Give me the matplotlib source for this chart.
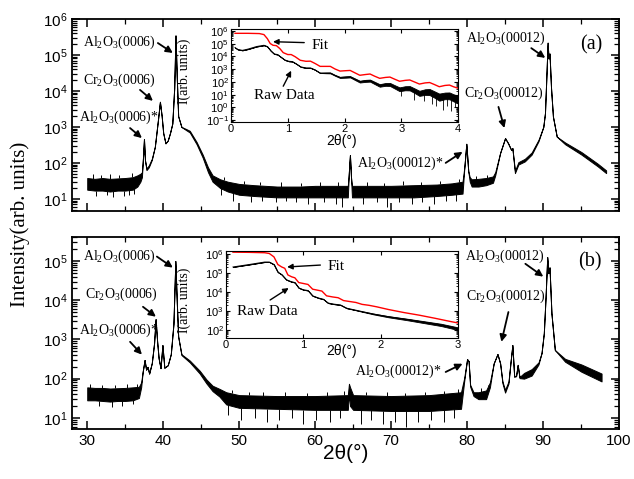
import numpy as np
import matplotlib.pyplot as plt
from matplotlib.ticker import LogLocator, NullFormatter, MultipleLocator

plt.rcParams['font.family'] = ['Liberation Sans', 'DejaVu Sans']
plt.rcParams['mathtext.default'] = 'regular'
plt.rcParams['axes.linewidth'] = 1.3
plt.rcParams['xtick.direction'] = 'in'
plt.rcParams['ytick.direction'] = 'in'
plt.rcParams['xtick.top'] = True
plt.rcParams['ytick.right'] = True
SERIF = ['Liberation Serif', 'DejaVu Serif']

# ---- XRD scan (a): 2theta, lower / upper edge of the noisy trace
tt_a = [30.0, 31.0, 32.0, 33.0, 34.0, 35.0, 36.0, 36.6, 37.0, 37.2, 37.35, 37.47, 37.6, 37.8,
        38.1, 38.5, 38.9, 39.3, 39.57, 39.8, 40.0, 40.3, 40.6, 40.9, 41.2, 41.45, 41.62, 41.8,
        41.97, 42.4, 43.0, 43.5, 44.4, 45.2, 45.9, 46.5, 47.5, 48.5, 50.0, 52.0, 55.0, 58.0,
        60.0, 62.0, 64.3, 64.45, 64.58, 64.72, 64.85, 67.0, 70.0, 73.0, 76.0, 78.0, 79.4,
        79.65, 79.9, 80.15, 80.35, 80.6, 81.5, 82.5, 83.4, 83.7, 84.35, 85.0, 85.4, 85.8,
        85.96, 86.3, 86.75, 87.6, 88.5, 89.4, 90.03, 90.25, 90.45, 90.6, 90.72, 90.85, 91.05,
        91.3, 91.8, 92.9, 95.05, 97.2, 98.3]
lo_a = [18, 17, 17, 16, 17, 17, 18, 22, 30, 40, 150, 460, 120, 63,
        75, 120, 280, 1500, 5000, 2000, 680, 350, 420, 680, 1250, 12000, 350000, 20000,
        2000, 1000, 820, 700, 330, 140, 55, 30, 20, 16, 13, 12, 11, 11,
        11, 11, 11, 60, 165, 40, 11, 11, 11, 11, 12, 13, 14,
        80, 340, 60, 30, 22, 22, 24, 28, 45, 190, 490, 350, 230,
        260, 52, 90, 110, 170, 400, 1000, 2400, 30000, 220000, 80000, 110000, 12000,
        1950, 540, 330, 170, 80, 52]
hi_a = [38, 36, 38, 36, 37, 38, 40, 45, 50, 55, 150, 460, 120, 70,
        85, 130, 280, 1500, 5000, 2000, 680, 350, 420, 680, 1250, 12000, 350000, 20000,
        2000, 1000, 880, 780, 380, 170, 75, 45, 35, 30, 26, 24, 22, 22,
        23, 23, 23, 60, 165, 40, 23, 23, 23, 24, 25, 27, 30,
        80, 340, 60, 40, 35, 36, 38, 42, 55, 190, 490, 350, 230,
        260, 60, 105, 130, 195, 440, 1000, 2400, 30000, 220000, 80000, 110000, 12000,
        1950, 540, 370, 200, 95, 62]
spike_x_a = [31.2, 32.6, 33.4, 34.8, 35.5, 36.2, 47.6, 49.2, 51.5, 53.0, 54.8, 56.1, 57.5, 59.0,
             61.2, 62.8, 63.6, 66.3, 68.1, 69.5, 71.0, 72.8, 74.1, 75.7, 77.2, 78.6]
spike_y_a = [12, 13, 11, 12, 13, 14, 13, 9, 8, 9, 8, 9, 8, 7,
             8, 7, 6, 7, 8, 6, 8, 7, 8, 7, 9, 9]
peak_x_a = [30.7, 31.8, 33.0, 34.2, 35.9, 48.0, 50.6, 52.7, 55.5, 58.2, 60.7, 63.0, 66.8, 69.0,
            71.6, 73.9, 76.4, 78.9, 81.2, 82.6]
peak_y_a = [48, 46, 50, 47, 52, 40, 32, 30, 29, 28, 30, 29, 30, 28, 31, 30, 32, 36, 44, 46]

# ---- XRD scan (b)
tt_b = [30.0, 31.0, 32.0, 33.0, 34.0, 35.0, 36.0, 36.8, 37.1, 37.3, 37.55, 37.75, 37.95, 38.15,
        38.5, 38.8, 39.0, 39.2, 39.4, 39.65, 39.9, 40.15, 40.6, 41.0, 41.35, 41.6, 41.8, 41.97,
        42.4, 43.5, 44.8, 45.7, 46.5, 47.4, 48.3, 50.0, 55.0, 60.0, 64.3, 64.45, 64.6, 65.0,
        70.0, 75.0, 79.2, 79.6, 80.0, 80.2, 80.4, 80.85, 81.5, 82.5, 83.0, 83.5, 84.0, 84.35,
        84.65, 85.0, 85.45, 85.7, 85.96, 86.2, 86.45, 86.66, 86.9, 87.5, 88.5, 89.4, 89.8,
        90.1, 90.33, 90.55, 90.7, 90.85, 91.1, 91.55, 92.9, 95.05, 97.7]
lo_b = [28, 28, 27, 26, 27, 27, 28, 32, 60, 150, 300, 170, 200, 135,
        250, 800, 3300, 900, 330, 185, 720, 190, 220, 420, 2500, 100000, 8000, 1200,
        400, 260, 135, 75, 48, 35, 22, 18, 17, 16, 16, 40, 20, 16,
        15, 15, 17, 80, 315, 280, 63, 36, 30, 30, 60, 245, 425, 245,
        77, 44, 75, 245, 720, 113, 115, 225, 103, 100, 120, 230, 450,
        1450, 12000, 126000, 49000, 69000, 4700, 540, 270, 150, 85]
hi_b = [60, 58, 58, 56, 57, 58, 60, 62, 80, 150, 300, 170, 200, 135,
        250, 800, 3300, 900, 330, 185, 720, 190, 220, 420, 2500, 100000, 8000, 1200,
        420, 290, 160, 95, 66, 55, 45, 38, 36, 36, 38, 74, 60, 38,
        36, 38, 45, 100, 315, 280, 70, 45, 45, 50, 80, 245, 425, 245,
        85, 52, 85, 245, 720, 113, 120, 225, 110, 140, 175, 260, 450,
        1450, 12000, 126000, 49000, 69000, 4700, 540, 320, 230, 135]
spike_x_b = [31.5, 33.2, 34.6, 36.0, 48.5, 50.2, 52.1, 53.7, 55.3, 57.0, 58.4, 60.1, 62.0, 63.3,
             66.0, 67.4, 68.9, 70.5, 72.0, 73.6, 75.2, 76.9, 78.3]
spike_y_b = [20, 19, 20, 22, 12, 9, 10, 8, 9, 10, 7, 9, 8, 10,
             7, 9, 7, 8, 6, 8, 9, 8, 10]
peak_x_b = [30.4, 31.9, 33.6, 35.2, 36.5, 49.0, 51.3, 53.2, 56.0, 58.9, 61.5, 63.8, 66.7, 69.4,
            71.8, 74.4, 77.0, 78.8, 81.8, 82.8]
peak_y_b = [72, 70, 68, 71, 75, 50, 47, 45, 46, 44, 46, 48, 45, 46, 44, 47, 48, 55, 58, 64]

# ---- reflectivity insets, log10 of intensity
fit_a_x = [0.07, 0.30, 0.50, 0.58, 0.64, 0.69, 0.74, 0.80, 0.86, 0.92, 1.00, 1.06, 1.13, 1.22,
           1.32, 1.40, 1.48, 1.57, 1.67, 1.75, 1.83, 1.92, 2.02, 2.10, 2.18, 2.27, 2.37, 2.45,
           2.53, 2.62, 2.72, 2.80, 2.88, 2.97, 3.07, 3.15, 3.23, 3.32, 3.42, 3.50, 3.58, 3.67,
           3.77, 3.85, 3.92, 4.00]
fit_a = [5.82, 5.82, 5.80, 5.72, 5.40, 5.02, 4.88, 4.85, 4.62, 4.30, 4.15, 4.15, 3.98, 3.70,
         3.62, 3.63, 3.45, 3.22, 3.22, 3.22, 3.02, 2.85, 2.88, 2.90, 2.72, 2.52, 2.58, 2.62,
         2.45, 2.28, 2.35, 2.38, 2.22, 2.05, 2.12, 2.15, 2.00, 1.83, 1.92, 1.95, 1.80, 1.62,
         1.72, 1.75, 1.62, 1.50]
raw_a_x = [0.07, 0.12, 0.20, 0.30, 0.45, 0.58, 0.64, 0.70, 0.76, 0.82, 0.88, 0.95, 1.02, 1.08,
           1.15, 1.23, 1.32, 1.40, 1.48, 1.57, 1.67, 1.75, 1.83, 1.92, 2.02, 2.10, 2.18, 2.27,
           2.37, 2.45, 2.53, 2.62, 2.72, 2.80, 2.88, 2.97, 3.07, 3.15, 3.23, 3.32, 3.42, 3.50,
           3.58, 3.67, 3.77, 3.85, 3.92, 4.00]
raw_a = [4.70, 4.55, 4.48, 4.58, 4.78, 4.88, 4.78, 4.45, 4.20, 4.15, 3.95, 3.72, 3.62, 3.60,
         3.42, 3.18, 3.10, 3.10, 2.95, 2.70, 2.70, 2.70, 2.52, 2.35, 2.38, 2.40, 2.22, 2.02,
         2.08, 2.10, 1.92, 1.72, 1.80, 1.80, 1.62, 1.42, 1.50, 1.50, 1.32, 1.10, 1.20, 1.20,
         1.02, 0.80, 0.90, 0.90, 0.75, 0.60]
raw_a_spread = [0, 0, 0, 0, 0, 0, 0, 0, 0, 0, 0, 0, 0, 0,
                0, 0, 0, 0, 0, 0, 0.02, 0.03, 0.03, 0.04, 0.05, 0.05, 0.06, 0.07,
                0.08, 0.08, 0.09, 0.10, 0.11, 0.12, 0.13, 0.15, 0.16, 0.17, 0.18, 0.2, 0.22, 0.24,
                0.25, 0.28, 0.26, 0.27, 0.28, 0.3]
raw_a_dip_x = [3.0, 3.22, 3.4, 3.55, 3.62, 3.74, 3.81, 3.88, 3.95]
raw_a_dip = [0.9, 0.6, 0.5, 0.3, 0.1, -0.2, 0.1, -0.3, 0.0]

fit_b_x = [0.09, 0.30, 0.50, 0.56, 0.62, 0.67, 0.72, 0.76, 0.80, 0.85, 0.89, 0.94, 1.00, 1.06,
           1.12, 1.18, 1.24, 1.30, 1.38, 1.45, 1.52, 1.60, 1.68, 1.76, 1.85, 1.95, 2.10, 2.30,
           2.50, 2.70, 2.90, 3.00]
fit_b = [6.10, 6.09, 6.07, 6.03, 5.85, 5.45, 5.32, 5.25, 4.90, 4.80, 4.75, 4.50, 4.45, 4.40,
         4.15, 4.10, 4.05, 3.80, 3.74, 3.70, 3.55, 3.50, 3.45, 3.35, 3.30, 3.22, 3.08, 2.92,
         2.78, 2.62, 2.45, 2.37]
raw_b_x = [0.09, 0.30, 0.50, 0.56, 0.62, 0.67, 0.72, 0.78, 0.84, 0.89, 0.94, 1.00, 1.06, 1.12,
           1.20, 1.26, 1.32, 1.40, 1.48, 1.56, 1.65, 1.75, 1.91, 2.10, 2.35, 2.55, 2.78, 3.00]
raw_b = [5.32, 5.45, 5.58, 5.58, 5.45, 5.05, 4.92, 4.65, 4.55, 4.50, 4.22, 4.12, 4.08, 3.80,
         3.68, 3.62, 3.42, 3.36, 3.32, 3.15, 3.07, 2.98, 2.84, 2.70, 2.55, 2.42, 2.27, 2.07]
raw_b_spread = [0, 0, 0, 0, 0, 0, 0, 0, 0, 0, 0, 0, 0, 0,
                0, 0, 0, 0, 0, 0, 0, 0.01, 0.02, 0.03, 0.04, 0.05, 0.06, 0.07]

fig = plt.figure(figsize=(6.34, 4.79), dpi=100)
ax_a = fig.add_axes([0.1136, 0.5595, 0.8628, 0.4008])
ax_b = fig.add_axes([0.1136, 0.1044, 0.8628, 0.4008])
in_a = fig.add_axes([0.3644, 0.7453, 0.358, 0.1942])
in_b = fig.add_axes([0.3565, 0.2944, 0.3659, 0.1816])


def draw_xrd(ax, tt, lo, hi, sx, sy, px, py):
    ax.fill_between(tt, lo, hi, color='k', lw=0.7)
    ax.vlines(sx, sy, np.interp(sx, tt, lo), color='k', lw=0.7)
    ax.vlines(px, np.interp(px, tt, hi), py, color='k', lw=0.7)


def style_main(ax, ylim, yticks):
    ax.set_xlim(28, 100)
    ax.set_yscale('log')
    ax.set_ylim(*ylim)
    ax.set_yticks(yticks)
    ax.yaxis.set_minor_locator(LogLocator(base=10, subs=np.arange(2, 10), numticks=30))
    ax.yaxis.set_minor_formatter(NullFormatter())
    ax.xaxis.set_major_locator(MultipleLocator(10))
    ax.xaxis.set_minor_locator(MultipleLocator(5))
    ax.tick_params(which='major', length=6, width=1.1, labelsize=11)
    ax.tick_params(which='minor', length=3.5, width=0.9)


def draw_refl(ax, fx, fy, rx, ry, rs):
    ry = np.array(ry)
    rs = np.array(rs)
    ax.fill_between(rx, 10.0 ** (ry - rs), 10.0 ** (ry + rs), color='k', lw=0.6)
    ax.plot(rx, 10.0 ** ry, color='k', lw=0.7)
    ax.plot(fx, 10.0 ** np.array(fy), color='red', lw=1.0)


def style_inset(ax, xmax, ylim, yticks):
    ax.set_xlim(0, xmax)
    ax.set_yscale('log')
    ax.set_ylim(*ylim)
    ax.set_yticks(yticks)
    ax.yaxis.set_minor_locator(LogLocator(base=10, subs=np.arange(2, 10), numticks=30))
    ax.yaxis.set_minor_formatter(NullFormatter())
    ax.xaxis.set_major_locator(MultipleLocator(1))
    ax.tick_params(which='major', length=3, width=0.8, labelsize=8, pad=1.5)
    ax.tick_params(which='minor', length=1.5, width=0.6)
    for s in ax.spines.values():
        s.set_linewidth(0.8)


def label(ax, text, xy, ha='left', size=10):
    ax.text(xy[0], xy[1], text, ha=ha, va='center', family=SERIF, fontsize=size)


def arrow(ax, tail, tip, lw=1.3, ms=10):
    ax.annotate('', xy=tip, xytext=tail,
                arrowprops=dict(arrowstyle='-|>', color='k', lw=lw, mutation_scale=ms,
                                shrinkA=0, shrinkB=0))


draw_xrd(ax_a, tt_a, lo_a, hi_a, spike_x_a, spike_y_a, peak_x_a, peak_y_a)
style_main(ax_a, (4.6, 1e6), [1e1, 1e2, 1e3, 1e4, 1e5, 1e6])
ax_a.tick_params(labelbottom=False)

draw_xrd(ax_b, tt_b, lo_b, hi_b, spike_x_b, spike_y_b, peak_x_b, peak_y_b)
style_main(ax_b, (5.2, 4.1e5), [1e1, 1e2, 1e3, 1e4, 1e5])

label(ax_a, 'Al$_2$O$_3$(0006)', (29.48, 2.3e5))
arrow(ax_a, (39.3, 2.15e5), (41.27, 1.14e5))
label(ax_a, 'Cr$_2$O$_3$(0006)', (29.48, 2.0e4))
arrow(ax_a, (36.95, 1.07e4), (38.65, 5.3e3))
label(ax_a, 'Al$_2$O$_3$(0006)*', (28.95, 1.9e3))
arrow(ax_a, (35.64, 930), (37.2, 490))
label(ax_a, 'Al$_2$O$_3$(00012)', (79.8, 2.9e5))
arrow(ax_a, (88.45, 1.55e5), (90.29, 8.3e4))
label(ax_a, 'Cr$_2$O$_3$(00012)', (79.54, 8.8e3))
arrow(ax_a, (84.13, 3600), (84.91, 930))
label(ax_a, 'Al$_2$O$_3$(00012)*', (76.92, 100), ha='right')
arrow(ax_a, (77.18, 100), (79.4, 203))
label(ax_a, '(a)', (96.3, 1.9e5), ha='center', size=14.5)

label(ax_b, 'Al$_2$O$_3$(0006)', (29.48, 1.3e5))
arrow(ax_b, (39.17, 1.3e5), (41.27, 6.8e4))
label(ax_b, 'Cr$_2$O$_3$(0006)', (29.74, 1.38e4))
arrow(ax_b, (37.34, 6.8e3), (39.04, 3.8e3))
label(ax_b, 'Al$_2$O$_3$(0006)*', (28.95, 1.66e3))
arrow(ax_b, (35.64, 870), (37.2, 410))
label(ax_b, 'Al$_2$O$_3$(00012)', (79.67, 1.3e5))
arrow(ax_b, (87.67, 8.5e4), (90.03, 4.0e4))
label(ax_b, 'Cr$_2$O$_3$(00012)', (79.8, 1.23e4))
arrow(ax_b, (85.44, 5.0e3), (84.52, 870))
label(ax_b, 'Al$_2$O$_3$(00012)*', (76.66, 158), ha='right')
arrow(ax_b, (77.18, 148), (79.4, 240))
label(ax_b, '(b)', (96.2, 9.5e4), ha='center', size=14.5)

# insets
draw_refl(in_a, fit_a_x, fit_a, raw_a_x, raw_a, raw_a_spread)
in_a.vlines(raw_a_dip_x, 10.0 ** np.array(raw_a_dip),
            10.0 ** np.interp(raw_a_dip_x, raw_a_x, raw_a), color='k', lw=0.6)
style_inset(in_a, 4, (0.07, 1.45e6), [1e-1, 1e0, 1e1, 1e2, 1e3, 1e4, 1e5, 1e6])
in_a.set_ylabel('I(arb. units)', family=SERIF, fontsize=10)
in_a.yaxis.set_label_coords(-0.175, 0.55)
in_a.text(0.485, -0.205, '2θ(°)', transform=in_a.transAxes, ha='center', va='center', fontsize=10)
label(in_a, 'Fit', (1.41, 10 ** 4.86), size=11)
arrow(in_a, (1.29, 10 ** 5.09), (0.74, 10 ** 5.16), lw=1.0, ms=8)
label(in_a, 'Raw Data', (0.40, 10 ** 0.9), size=11)
arrow(in_a, (0.92, 10 ** 1.66), (1.06, 10 ** 2.88), lw=1.0, ms=8)

draw_refl(in_b, fit_b_x, fit_b, raw_b_x, raw_b, raw_b_spread)
style_inset(in_b, 3, (38, 1.45e6), [1e2, 1e3, 1e4, 1e5, 1e6])
in_b.set_ylabel('I(arb. units)', family=SERIF, fontsize=10)
in_b.yaxis.set_label_coords(-0.15, 0.43)
in_b.text(0.496, -0.15, '2θ(°)', transform=in_b.transAxes, ha='center', va='center', fontsize=10)
label(in_b, 'Fit', (1.31, 10 ** 5.32), size=11)
arrow(in_b, (1.22, 10 ** 5.42), (0.79, 10 ** 5.32), lw=1.0, ms=8)
label(in_b, 'Raw Data', (0.14, 10 ** 3.0), size=11)
arrow(in_b, (0.57, 10 ** 3.58), (0.81, 10 ** 4.21), lw=1.0, ms=8)

fig.text(0.032, 0.532, 'Intensity(arb. units)', rotation=90, ha='center', va='center',
         family=SERIF, fontsize=15)
fig.text(0.546, 0.054, '2θ(°)', ha='center', va='center', fontsize=15)

fig.savefig('out.png', dpi=100)
